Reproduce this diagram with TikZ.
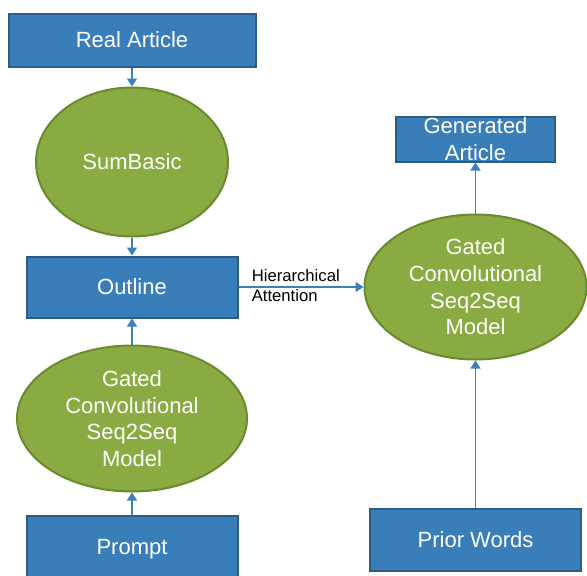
\documentclass[tikz,border=0pt]{standalone}
\usepackage{fontspec}
\setmainfont{Liberation Sans}
\usepackage{tikz}
\usetikzlibrary{arrows.meta,positioning,shapes.geometric}
\definecolor{BoxBlue}{HTML}{3A7EB9}
\definecolor{BoxEdge}{HTML}{2B5D87}
\definecolor{OvalGreen}{HTML}{8AAA42}
\definecolor{OvalEdge}{HTML}{6A8A30}
\definecolor{LinkBlue}{HTML}{3C80BE}

\begin{document}
\begin{tikzpicture}[
  x=0.75pt, y=-0.75pt,
  font=\fontsize{16.5}{20}\selectfont,
  % blue rectangle
  box/.style={draw=BoxEdge, fill=BoxBlue, line width=1.5pt,
              text=white, align=center, inner sep=0pt},
  % green ellipse
  oval/.style={draw=OvalEdge, fill=OvalGreen, line width=1.5pt,
               shape=ellipse, text=white, align=center, inner sep=0pt},
  % arrows
  arr/.style={-{Triangle[length=6pt,width=7.5pt]}, draw=LinkBlue, line width=0.9pt},
  lbl/.style={font=\fontsize{12.5}{15}\selectfont, align=left, inner sep=0pt},
]
\useasboundingbox (0,0) rectangle (587,576);
\clip (0,0) rectangle (587,576);

%% -- Left column (top to bottom) -----------------------------------------
\node[box, minimum width=185.25pt, minimum height=39.75pt]
      (RA) at (132,40) {Real Article};
\node[oval, minimum width=144pt, minimum height=111.75pt]
      (SB) [below=14.25pt of RA] {SumBasic};
\node[box, minimum width=158.25pt, minimum height=45.75pt]
      (OL) [below=13.5pt of SB] {Outline};
\node[oval, minimum width=172.5pt, minimum height=109.5pt]
      (GL) [below=19.5pt of OL] {Gated\\Convolutional\\Seq2Seq\\Model};
\node[box, minimum width=158.25pt, minimum height=51pt]
      (PR) [below=16.5pt of GL] {Prompt};

%% -- Right column ---------------------------------------------------------
\node[oval, minimum width=166.5pt, minimum height=108.75pt]
      (GR) [right=93.75pt of OL] {Gated\\Convolutional\\Seq2Seq\\Model};
\node[box, minimum width=119.25pt, minimum height=33.75pt]
      (GA) [above=38.25pt of GR] {Generated\\Article};
\node[box, minimum width=158.25pt, minimum height=46.5pt]
      (PW) [below=110.25pt of GR] {Prior Words};

%% -- Arrows ---------------------------------------------------------------
\draw[arr] (RA) -- (SB);
\draw[arr] (SB) -- (OL);
\draw[arr] (GL) -- (OL);
\draw[arr] (PR) -- (GL);
\draw[arr] (OL.east) -- node[lbl, pos=0, anchor=west, xshift=9.5pt, yshift=0.8pt]
      {Hierarchical\\Attention} (GR.west);
\draw[arr] (GR) -- (GA);
\draw[arr] (PW) -- (GR);

\end{tikzpicture}
\end{document}
